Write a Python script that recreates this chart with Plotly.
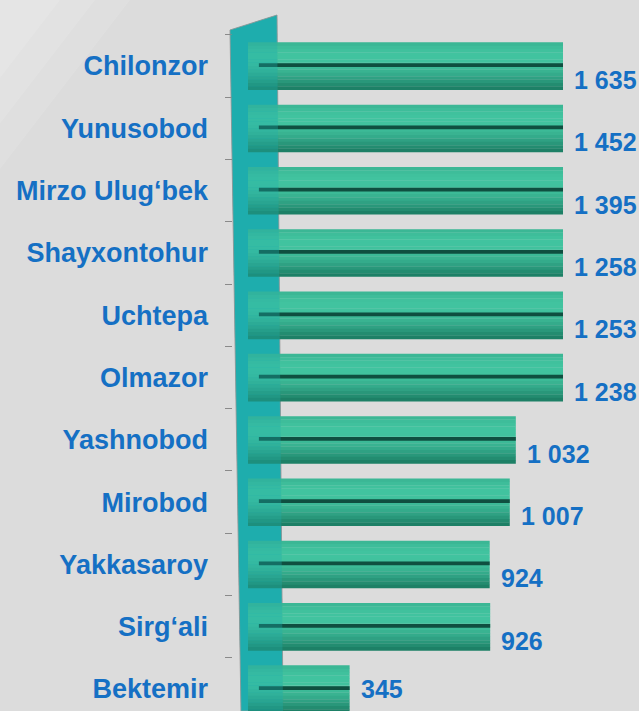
import math
import plotly.graph_objects as go

categories = ["Chilonzor", "Yunusobod", "Mirzo Ulug\u2018bek", "Shayxontohur", "Uchtepa",
              "Olmazor", "Yashnobod", "Mirobod", "Yakkasaroy", "Sirg\u2018ali", "Bektemir"]
values = [1635, 1452, 1395, 1258, 1253, 1238, 1032, 1007, 924, 926, 345]

W, H = 639, 711
BASE = -75          # cylinders start slightly behind the wall
XMAX = 1227         # axis maximum (longer bars are cut at the frame)
BLUE = "#1570c4"
HALF = 0.38         # half thickness of a cylinder in category units

def px(x):
    return x / W

def py(y):
    return 1 - y / H

def shade(t):
    """colour across the cylinder, t=0 top edge .. 1 bottom edge"""
    light = (66, 196, 160)
    dark = (24, 118, 94)
    k = math.cos((t - 0.3) * math.pi / 1.45)
    k = max(0.0, min(1.0, k))
    c = [int(d + (l - d) * k) for l, d in zip(light, dark)]
    return "rgb({},{},{})".format(*c)

fig = go.Figure()

N = 14
for i in range(N):
    y0 = -HALF + 2 * HALF * i / N
    y1 = -HALF + 2 * HALF * (i + 1) / N + 0.004
    fig.add_trace(go.Bar(
        y=categories, x=[v - BASE for v in values], base=BASE,
        orientation="h", offset=y0, width=y1 - y0,
        marker=dict(color=shade((i + 0.5) / N), line=dict(width=0)),
        hoverinfo="skip", showlegend=False,
    ))

# dark groove along each cylinder
fig.add_trace(go.Bar(
    y=categories, x=[v + 30 for v in values], base=-30,
    orientation="h", offset=-0.045, width=0.06,
    marker=dict(color="#0f4f40", line=dict(width=0)),
    hoverinfo="skip", showlegend=False,
))

# value labels (the last one sits level with its bar to stay on the canvas)
for i, (cat, v) in enumerate(zip(categories, values)):
    fig.add_annotation(
        x=min(v, XMAX - 1), y=cat, xref="x", yref="y",
        text=f"{v:,}".replace(",", " "),
        showarrow=False, xanchor="left", yanchor="middle",
        xshift=9, yshift=0 if i == len(values) - 1 else -14,
        font=dict(family="Liberation Sans, Arial", size=25, color=BLUE, weight="bold"),
    )

wall = [(230, 30), (277, 15), (283, 711), (241, 711)]
path = "M " + " L ".join(f"{px(x):.5f},{py(y):.5f}" for x, y in wall) + " Z"

shapes = [
    dict(type="path", xref="paper", yref="paper", path=path, layer="below",
         fillcolor="#1fadae", line=dict(color="#9a9a9a", width=1)),
    dict(type="path", xref="paper", yref="paper", path=path, layer="above",
         fillcolor="rgba(31,173,174,0.33)", line=dict(width=0)),
]
for s in (130, 95, 60):
    shapes.append(dict(type="path", xref="paper", yref="paper",
                       path=f"M 0,1 L {px(s):.4f},1 L 0,{py(s * 1.3):.4f} Z", layer="below",
                       fillcolor="rgba(255,255,255,0.10)", line=dict(width=0)))

fig.update_layout(
    width=W, height=H,
    margin=dict(l=0, r=0, t=0, b=0),
    paper_bgcolor="#dcdcdc",
    plot_bgcolor="rgba(0,0,0,0)",
    barmode="overlay",
    showlegend=False,
    shapes=shapes,
    xaxis=dict(domain=[px(248), px(563)], range=[BASE, XMAX],
               visible=False, fixedrange=True),
    yaxis=dict(
        domain=[0, py(34.85)],
        type="category",
        categoryorder="array", categoryarray=categories,
        range=[10.353, -0.5],
        anchor="free", position=px(232),
        ticks="outside", tickson="boundaries", ticklen=7,
        tickcolor="#8a8a8a", tickwidth=1,
        showline=False, showgrid=False, zeroline=False,
        ticklabelstandoff=24,
        tickfont=dict(family="Liberation Sans, Arial", size=27, color=BLUE, weight="bold"),
        fixedrange=True,
    ),
)

fig.write_html("out.html", config={"displayModeBar": False},
               post_script="document.body.style.margin='0';")
